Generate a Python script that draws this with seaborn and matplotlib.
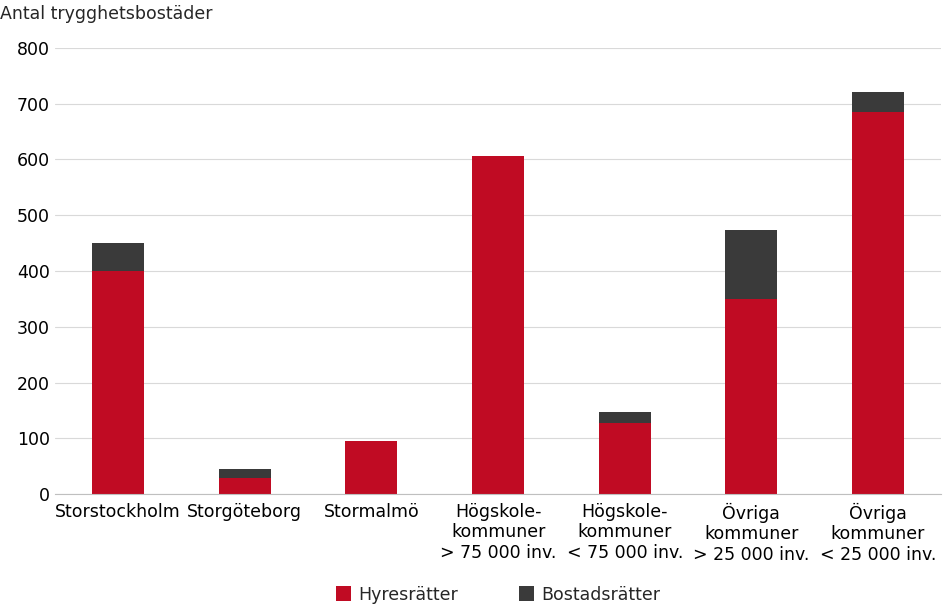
import pandas as pd
import matplotlib.pyplot as plt
import seaborn as sns

categories = ["Storstockholm", "Storgöteborg", "Stormalmö",
              "Högskole-\nkommuner\n> 75 000 inv.", "Högskole-\nkommuner\n< 75 000 inv.",
              "Övriga\nkommuner\n> 25 000 inv.", "Övriga\nkommuner\n< 25 000 inv."]
hyresratter = [400, 30, 95, 606, 128, 350, 685]
bostadsratter = [50, 16, 0, 0, 20, 124, 36]

plt.rcParams["font.family"] = "Liberation Sans"
sns.set_style("white")

fig = plt.figure(figsize=(9.46, 6.14), dpi=100)
ax = fig.add_axes([0.058, 0.195, 0.937, 0.727])

df = pd.DataFrame({"cat": categories, "h": hyresratter,
                   "total": [a + b for a, b in zip(hyresratter, bostadsratter)]})
sns.barplot(data=df, x="cat", y="total", color="#3a3a3a", width=0.41,
            saturation=1, ax=ax, label="Bostadsrätter", linewidth=0)
sns.barplot(data=df, x="cat", y="h", color="#c00b23", width=0.41,
            saturation=1, ax=ax, label="Hyresrätter", linewidth=0)

ax.set_ylim(0, 800)
ax.set_yticks(range(0, 801, 100))
ax.yaxis.grid(True, color="#d9d9d9", linewidth=0.8)
ax.set_axisbelow(True)
for s in ["top", "right", "left"]:
    ax.spines[s].set_visible(False)
ax.spines["bottom"].set_color("#bfbfbf")
ax.tick_params(axis="both", labelsize=12.5, length=0, colors="black")
ax.tick_params(axis="x", pad=6)
ax.set_xlabel("")
ax.set_ylabel("")
ax.set_xlim(-0.5, 6.5)
fig.text(0.0, 0.978, "Antal trygghetsbostäder", fontsize=12.5, va="center")

h, l = ax.get_legend_handles_labels()
ax.legend(h[::-1], l[::-1], loc="lower center", bbox_to_anchor=(0.5, -0.28),
          ncol=2, frameon=False, fontsize=12.5, handlelength=0.9, handleheight=0.9,
          columnspacing=3.5, handletextpad=0.4)

fig.savefig("out.png", dpi=100)
